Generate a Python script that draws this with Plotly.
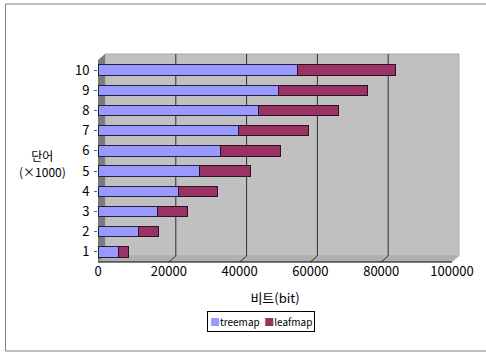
import plotly.graph_objects as go

categories = ["1", "2", "3", "4", "5", "6", "7", "8", "9", "10"]
treemap = [5900, 11500, 16800, 22800, 28800, 34700, 39700, 45300, 50900, 56300]
leafmap = [2800, 5600, 8500, 10900, 14400, 16900, 19900, 22700, 25300, 27700]
x_ticks = [0, 20000, 40000, 60000, 80000, 100000]
series_names = ["treemap", "leafmap"]
series_colors = ["#9999ff", "#993366"]

W, H = 486, 353
L, R, T, B = 98, 32, 60, 91
PW, PH = W - L - R, H - T - B
DX, DY = 7, 6  # 3D depth offset in pixels

def px(x):
    return (x - L) / PW

def py(y):
    return (H - B - y) / PH

FONT = "Noto Sans CJK KR, DejaVu Sans, sans-serif"

fig = go.Figure()
for name, vals, col, edge in zip(series_names, [treemap, leafmap], series_colors, ["#202040", "#301020"]):
    fig.add_trace(go.Bar(y=categories, x=vals, orientation="h", name=name,
                         marker=dict(color=col, line=dict(color=edge, width=1))))

def poly(pts):
    return "M " + " L ".join(f"{px(a):.5f},{py(b):.5f}" for a, b in pts) + " Z"

x0, x1 = L, L + PW
y0, y1 = T, H - B
shapes = []
shapes.append(dict(type="path", xref="paper", yref="paper", layer="below",
                   path=poly([(x0 + DX, y0 - DY), (x1 + DX, y0 - DY), (x1 + DX, y1 - DY), (x0 + DX, y1 - DY)]),
                   fillcolor="#c0c0c0", line=dict(color="#a8a8a8", width=1)))
shapes.append(dict(type="path", xref="paper", yref="paper", layer="below",
                   path=poly([(x0, y1), (x0, y0), (x0 + DX, y0 - DY), (x0 + DX, y1 - DY)]),
                   fillcolor="#7a7a7a", line=dict(width=0)))
shapes.append(dict(type="path", xref="paper", yref="paper", layer="below",
                   path=poly([(x0, y1), (x0 + DX, y1 - DY), (x1 + DX, y1 - DY), (x1, y1)]),
                   fillcolor="#b0b0b0", line=dict(width=0)))
for v in x_ticks[1:-1]:
    shapes.append(dict(type="line", xref="x", yref="paper", layer="below",
                       xsizemode="pixel", xanchor=v, x0=DX, x1=DX,
                       y0=py(y1 - DY), y1=py(y0 - DY),
                       line=dict(color="#303030", width=1)))
    shapes.append(dict(type="line", xref="x", yref="paper", layer="below",
                       xsizemode="pixel", xanchor=v, x0=0, x1=DX,
                       y0=0, y1=py(y1 - DY),
                       line=dict(color="#303030", width=1)))
shapes.append(dict(type="line", xref="paper", yref="paper", x0=0, x1=px(x1), y0=0, y1=0,
                   line=dict(color="black", width=1)))
shapes.append(dict(type="rect", xref="paper", yref="paper", layer="below",
                   x0=px(5), x1=px(492), y0=py(351), y1=py(4),
                   line=dict(color="#808080", width=1), fillcolor="rgba(0,0,0,0)"))

legend_text = "&nbsp;&nbsp;".join(
    f'<span style="color:{c}">■</span>{n}' for n, c in zip(series_names, series_colors)
)

fig.update_layout(
    width=W, height=H,
    margin=dict(l=L, r=R, t=T, b=B),
    paper_bgcolor="white", plot_bgcolor="rgba(0,0,0,0)",
    barmode="stack", bargap=0.48,
    showlegend=False,
    font=dict(family=FONT, size=13, color="black"),
    shapes=shapes,
    xaxis=dict(range=[0, 100000], tickvals=x_ticks, ticktext=[str(v) for v in x_ticks],
               showgrid=False, zeroline=False, showline=False, ticks="",
               tickfont=dict(size=13), title=dict(text="비트(bit)", font=dict(size=13), standoff=14),
               fixedrange=True),
    yaxis=dict(categoryorder="array", categoryarray=categories, range=[-0.5, 9.5],
               showgrid=False, zeroline=False, showline=False, ticks="outside", ticklen=3,
               tickcolor="#606060", tickfont=dict(size=13), ticklabelstandoff=2, fixedrange=True),
    annotations=[
        dict(text="단어<br>(×1000)", xref="paper", yref="paper", x=px(42), y=py(163),
             xanchor="center", yanchor="middle", showarrow=False, font=dict(size=12), align="center"),
        dict(text=legend_text, xref="paper", yref="paper", x=px(262), y=py(321),
             xanchor="center", yanchor="middle", showarrow=False, font=dict(size=10),
             bordercolor="black", borderwidth=1, borderpad=2, bgcolor="white"),
    ],
)

fig.write_html("out.html")
